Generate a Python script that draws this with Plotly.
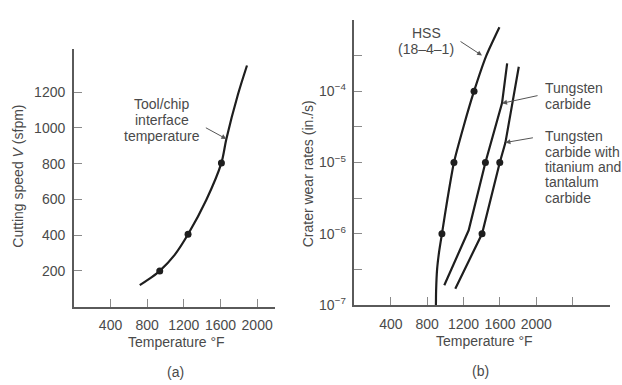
import plotly.graph_objects as go

# ---------- data (a) ----------
temp_a = [719, 850, 937, 1100, 1246, 1446, 1610, 1664, 1791, 1889]
speed_a = [120, 165, 200, 290, 405, 598, 804, 938, 1188, 1349]
dot_temp_a = [937, 1246, 1610]
dot_speed_a = [200, 405, 804]
xticks_a = [400, 800, 1200, 1600, 2000]
yticks_a = [200, 400, 600, 800, 1000, 1200]

# ---------- data (b) ----------
hss_temp = [896, 898, 909, 930, 962, 1025, 1094, 1200, 1315, 1450, 1594]
hss_rate = [1e-7, 1.6e-7, 3.2e-7, 5.5e-7, 1e-6, 3.2e-6, 1e-5, 3.2e-5, 1e-4, 3.16e-4, 7.9e-4]
tc_temp = [988, 1256, 1440, 1623, 1679]
tc_rate = [1.9e-7, 1.12e-6, 1e-5, 6.8e-5, 2.45e-4]
tita_temp = [1109, 1403, 1598, 1660, 1807]
tita_rate = [1.7e-7, 1e-6, 1e-5, 1.9e-5, 2.2e-4]
dot_temp_b = [962, 1094, 1315, 1440, 1403, 1598]
dot_rate_b = [1e-6, 1e-5, 1e-4, 1e-5, 1e-6, 1e-5]
xticks_b = [400, 800, 1200, 1600, 2000, 2400, 2800]
xticklabels_b = ["400", "800", "1200", "1600", "2000", " ", " "]
yticks_b = [1e-7, 10**-6.5, 1e-6, 10**-5.5, 1e-5, 10**-4.5, 1e-4, 10**-3.5, 1e-3]
yticklabels_b = ["10<sup>−7</sup>", " ", "10<sup>−6</sup>", " ", "10<sup>−5</sup>", " ",
                 "10<sup>−4</sup>", " ", " "]

W, H = 622, 385
def px(x):
    return x / W
def py(y):
    return 1 - y / H

INK = "#1e1e1e"
TXT = "#4a4a4a"
AX = "#5a5a5a"
FONT = "Liberation Sans, Arial, sans-serif"

fig = go.Figure()
fig.add_trace(go.Scatter(x=temp_a, y=speed_a, mode="lines", line=dict(color=INK, width=2.2, shape="spline", smoothing=0.8),
                         xaxis="x", yaxis="y", hoverinfo="skip"))
fig.add_trace(go.Scatter(x=dot_temp_a, y=dot_speed_a, mode="markers", marker=dict(color=INK, size=7),
                         xaxis="x", yaxis="y"))
fig.add_trace(go.Scatter(x=hss_temp, y=hss_rate, mode="lines", line=dict(color=INK, width=2.2, shape="spline", smoothing=0.6),
                         xaxis="x2", yaxis="y2"))
fig.add_trace(go.Scatter(x=tc_temp, y=tc_rate, mode="lines", line=dict(color=INK, width=2.2),
                         xaxis="x2", yaxis="y2"))
fig.add_trace(go.Scatter(x=tita_temp, y=tita_rate, mode="lines", line=dict(color=INK, width=2.2),
                         xaxis="x2", yaxis="y2"))
fig.add_trace(go.Scatter(x=dot_temp_b, y=dot_rate_b, mode="markers", marker=dict(color=INK, size=7),
                         xaxis="x2", yaxis="y2"))

axis_common = dict(showline=True, linecolor=AX, linewidth=1.6, showgrid=False, zeroline=False,
                   ticks="inside", ticklen=8, tickcolor="#8a8a8a", tickwidth=1,
                   tickfont=dict(family=FONT, size=14, color=TXT), mirror=False)

fig.update_layout(
    width=W, height=H, margin=dict(l=0, r=0, t=0, b=0),
    paper_bgcolor="white", plot_bgcolor="white", showlegend=False,
    xaxis=dict(domain=[px(74), px(275)], range=[0, 2190], tickvals=xticks_a, anchor="y",
               ticklabelstandoff=5, **axis_common),
    yaxis=dict(domain=[py(311.6), py(43)], range=[0, 1440], tickvals=yticks_a, anchor="x",
               ticklabelstandoff=4, **axis_common),
    xaxis2=dict(domain=[px(355), px(611)], range=[0, 2810], tickvals=xticks_b, ticktext=xticklabels_b,
                anchor="y2", ticklabelstandoff=5, **axis_common),
    yaxis2=dict(domain=[py(310), py(12)], type="log", range=[-7, -2.995], tickvals=yticks_b,
                ticktext=yticklabels_b, anchor="x2", ticklabelstandoff=4, **axis_common),
)

def text(x, y, s, size=14, angle=0, xanchor="center"):
    fig.add_annotation(x=px(x), y=py(y), xref="paper", yref="paper", text=s, showarrow=False,
                       textangle=angle, xanchor=xanchor, yanchor="middle",
                       font=dict(family=FONT, size=size, color=TXT))

def lines(x, ys, parts, xanchor="center", size=14):
    for yy, s in zip(ys, parts):
        text(x, yy, s, size=size, xanchor=xanchor)

def arrow(xref, yref, x, y, ax, ay):
    fig.add_annotation(x=x, y=y, xref=xref, yref=yref, ax=ax, ay=ay, text="", showarrow=True,
                       arrowhead=2, arrowsize=1, arrowwidth=1, arrowcolor="#555")

# axis titles
text(18, 175, "Cutting speed <i>V</i> (sfpm)", angle=-90)
text(308, 173, "Crater wear rates (in./s)", angle=-90)
text(177, 349, "Temperature °F")
text(485, 347, "Temperature °F")
text(176, 380, "(a)")
text(481, 379, "(b)")

# labels
lines(162, [100, 117, 134], ["Tool/chip", "interface", "temperature"])
arrow("x", "y", 1664, 938, -22, -12)
lines(427, [26, 43], ["HSS", "(18–4–1)"])
arrow("x2", "y2", 1403, -3.5, -23, -15)
lines(544, [83, 100], ["Tungsten", "carbide"], xanchor="left")
arrow("x2", "y2", 1623, -4.17, 37, -8)
lines(544, [134, 150, 166, 182, 198],
      ["Tungsten", "carbide with", "titanium and", "tantalum", "carbide"], xanchor="left")
arrow("x2", "y2", 1660, -4.72, 29, -5)

fig.write_html("out.html")
